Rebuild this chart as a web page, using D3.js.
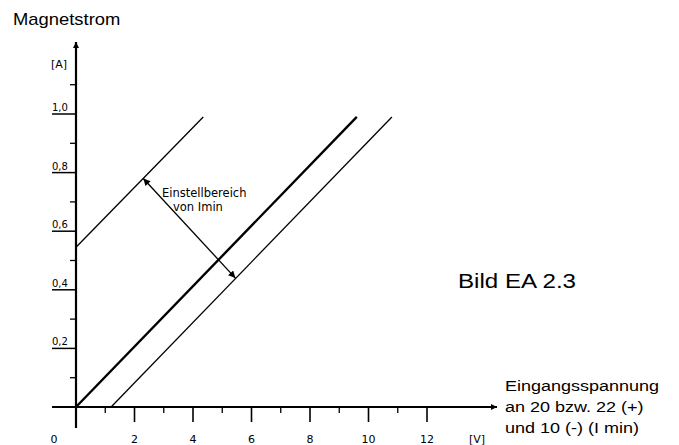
<!DOCTYPE html>
<html>
<head>
<meta charset="utf-8">
<script src="https://cdn.jsdelivr.net/npm/d3@7"></script>
<style>
  body { margin: 0; background: #fff; }
  svg text { font-family: "Liberation Sans", Arial, sans-serif; fill: #000; }
  .scan { font-family: "DejaVu Sans", sans-serif; }
</style>
</head>
<body>
<div id="chart"></div>
<script>
// ticks
const xMajor = [2, 4, 6, 8, 10, 12];
const xMinor = [1, 3, 5, 7, 9, 11];
const yMajor = [0.2, 0.4, 0.6, 0.8, 1.0];
const yMinor = [0.1, 0.3, 0.5, 0.7, 0.9, 1.1];

// characteristic lines [U in V, I in A]
const upperLine = [[0, 0.545], [4.35, 0.99]];
const mainLine  = [[0, 0], [9.6, 0.99]];
const lowerLine = [[1.2, 0], [10.8, 0.99]];

// Einstellbereich arrow
const rangeArrow = [[2.3, 0.78], [5.45, 0.44]];

const W = 679, H = 445;
const svg = d3.select('#chart').append('svg')
  .attr('width', W).attr('height', H);

const x = d3.scaleLinear().domain([0, 12]).range([76, 427]);
const y = d3.scaleLinear().domain([0, 1]).range([407, 114]);

const defs = svg.append('defs');
defs.append('marker').attr('id', 'ah').attr('viewBox', '0 0 10 10')
  .attr('refX', 10).attr('refY', 5).attr('markerWidth', 9).attr('markerHeight', 7)
  .attr('markerUnits', 'userSpaceOnUse').attr('orient', 'auto-start-reverse')
  .append('path').attr('d', 'M0,0 L10,5 L0,10 z').attr('fill', '#000');
defs.append('marker').attr('id', 'big').attr('viewBox', '0 0 10 10')
  .attr('refX', 10).attr('refY', 5).attr('markerWidth', 13).attr('markerHeight', 6)
  .attr('markerUnits', 'userSpaceOnUse').attr('orient', 'auto')
  .append('path').attr('d', 'M0,0 L10,5 L0,10 z').attr('fill', '#000');

// axes lines
svg.append('line').attr('x1', 52).attr('y1', y(0)).attr('x2', 497).attr('y2', y(0))
  .attr('stroke', '#000').attr('stroke-width', 2.2).attr('marker-end', 'url(#big)');
svg.append('line').attr('x1', x(0)).attr('y1', 428).attr('x2', x(0)).attr('y2', 42)
  .attr('stroke', '#000').attr('stroke-width', 2.2).attr('marker-end', 'url(#big)');

// x ticks
svg.selectAll('.xmaj').data(xMajor).enter().append('line')
  .attr('x1', d => x(d)).attr('x2', d => x(d))
  .attr('y1', y(0)).attr('y2', y(0) + 15)
  .attr('stroke', '#000').attr('stroke-width', 1.6);
svg.selectAll('.xmin').data(xMinor).enter().append('line')
  .attr('x1', d => x(d)).attr('x2', d => x(d))
  .attr('y1', y(0)).attr('y2', y(0) + 6)
  .attr('stroke', '#000').attr('stroke-width', 1.3);
svg.selectAll('.xlab').data([0].concat(xMajor)).enter().append('text')
  .attr('class', 'scan')
  .attr('x', d => d === 0 ? 54 : x(d)).attr('y', 443)
  .attr('text-anchor', 'middle').style('font-size', '11px')
  .text(d => d);
svg.append('text').attr('class', 'scan').attr('x', 477).attr('y', 443)
  .attr('text-anchor', 'middle').style('font-size', '11px').text('[V]');

// y ticks
svg.selectAll('.ymaj').data(yMajor).enter().append('line')
  .attr('x1', 52).attr('x2', x(0))
  .attr('y1', d => y(d)).attr('y2', d => y(d))
  .attr('stroke', '#000').attr('stroke-width', 1.5);
svg.selectAll('.ymin').data(yMinor).enter().append('line')
  .attr('x1', x(0) - 6).attr('x2', x(0))
  .attr('y1', d => y(d)).attr('y2', d => y(d))
  .attr('stroke', '#000').attr('stroke-width', 1.3);
svg.selectAll('.ylab').data(yMajor).enter().append('text')
  .attr('class', 'scan')
  .attr('x', 52).attr('y', d => y(d) - 3)
  .style('font-size', '10px')
  .text(d => d3.format('.1f')(d).replace('.', ','));
svg.append('text').attr('class', 'scan').attr('x', 51).attr('y', 68)
  .style('font-size', '11px').text('[A]');

// characteristic lines
const line = d3.line().x(d => x(d[0])).y(d => y(d[1]));
svg.append('path').datum(upperLine).attr('d', line)
  .attr('fill', 'none').attr('stroke', '#000').attr('stroke-width', 1.3);
svg.append('path').datum(mainLine).attr('d', line)
  .attr('fill', 'none').attr('stroke', '#000').attr('stroke-width', 2.4);
svg.append('path').datum(lowerLine).attr('d', line)
  .attr('fill', 'none').attr('stroke', '#000').attr('stroke-width', 1.3);

// range arrow
svg.append('path').datum(rangeArrow).attr('d', line)
  .attr('fill', 'none').attr('stroke', '#000').attr('stroke-width', 1.3)
  .attr('marker-start', 'url(#ah)').attr('marker-end', 'url(#ah)');
svg.append('text').attr('class', 'scan').attr('x', 162).attr('y', 197)
  .style('font-size', '11.5px').text('Einstellbereich');
svg.append('text').attr('class', 'scan').attr('x', 173).attr('y', 211)
  .style('font-size', '11.5px').text('von Imin');

// labels
svg.append('text').attr('transform', 'translate(13,25) scale(1.15,1)')
  .style('font-size', '16px').text('Magnetstrom');
svg.append('text').attr('transform', 'translate(458,288) scale(1.15,1)')
  .style('font-size', '21px').text('Bild EA 2.3');

const rightLines = ['Eingangsspannung', 'an 20 bzw. 22 (+)', 'und 10 (-) (I min)'];
svg.selectAll('.rl').data(rightLines).enter().append('text')
  .attr('transform', (d, i) => `translate(505,${391 + i * 21}) scale(1.2,1)`)
  .style('font-size', '15px').text(d => d);
</script>
</body>
</html>
